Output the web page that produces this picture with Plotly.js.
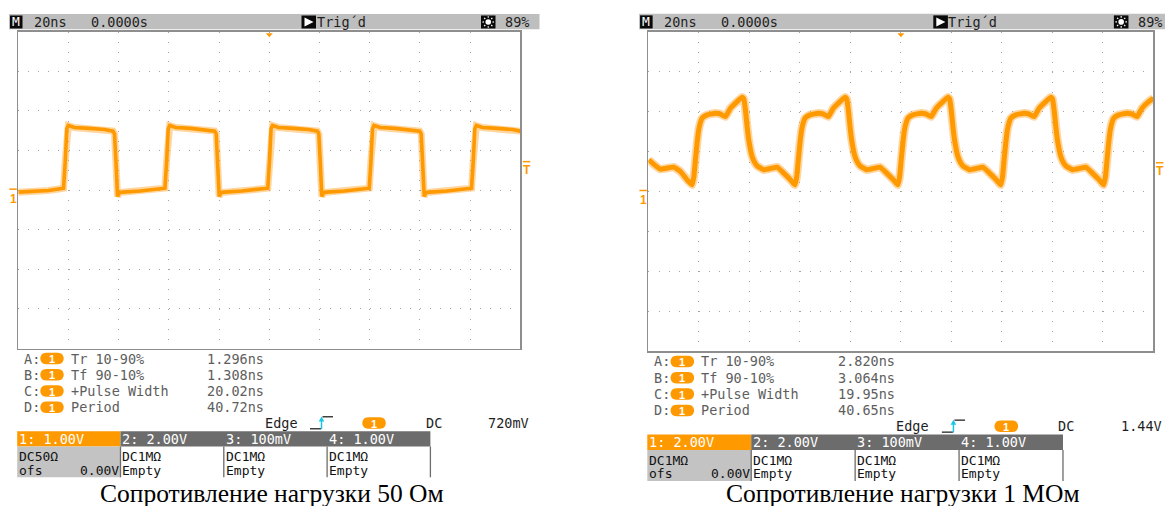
<!DOCTYPE html>
<html><head><meta charset="utf-8">
<script src="https://cdn.plot.ly/plotly-3.0.1.min.js"></script>
<style>html,body{margin:0;padding:0;background:#fff;overflow:hidden}#chart{width:1165px;height:506px}</style>
</head><body><div id="chart"></div>
<script>
// ---------- data ----------
const timeLeftNs = [
-100, -94, -88, -84,
-81.97, -81.27, -80.67, -80.07, -77.67, -71.67, -65.67,
-62.27, -61.67, -61.07, -60.47, -59.67, -58.47, -51.47, -45.47,
-41.57, -40.87, -40.27, -39.67, -37.27, -31.27, -25.27,
-21.76, -21.16, -20.56, -19.96, -19.16, -17.96, -10.96, -4.96,
-0.6, 0.1, 0.7, 1.3, 3.7, 9.7, 15.7,
19.12, 19.72, 20.32, 20.92, 21.72, 22.92, 29.92, 35.92,
39.82, 40.52, 41.12, 41.72, 44.12, 50.12, 56.12,
59.92, 60.52, 61.12, 61.72, 62.52, 63.72, 70.72, 76.72,
80.58, 81.28, 81.88, 82.48, 84.88, 90.88, 96.88, 100];
const voltLeft = [
-0.05, -0.04, -0.01, 0.03,
0.05, 0.76, 1.55, 1.63, 1.58, 1.56, 1.53,
1.49, 1.42, 0.7, -0.16, -0.06, -0.05, -0.02, 0.02,
0.05, 0.76, 1.55, 1.63, 1.58, 1.56, 1.53,
1.49, 1.42, 0.7, -0.16, -0.06, -0.05, -0.02, 0.02,
0.05, 0.76, 1.55, 1.63, 1.58, 1.56, 1.53,
1.49, 1.42, 0.7, -0.16, -0.06, -0.05, -0.02, 0.02,
0.05, 0.76, 1.55, 1.63, 1.58, 1.56, 1.53,
1.49, 1.42, 0.7, -0.16, -0.06, -0.05, -0.02, 0.02,
0.05, 0.76, 1.55, 1.63, 1.58, 1.56, 1.53, 1.49];

const timeRightNs = [
-99.9, -95.25, -89.98, -87.33, -84.67,
-82.69, -82.0, -81.38, -80.75, -80.08, -79.4, -78.73, -76.75, -73.46, -71.60, -69.50, -67.52, -64.87, -62.89, -62.21, -61.58, -60.91, -60.27, -58.93, -57.9, -56.95, -54.33, -51.01, -49.03, -46.41, -43.76,
-41.94, -41.25, -40.63, -40.0, -39.33, -38.65, -37.98, -36.00, -32.71, -30.85, -28.75, -26.77, -24.12, -22.14, -21.46, -20.83, -20.16, -19.52, -18.18, -17.15, -16.20, -13.58, -10.26, -8.28, -5.66, -3.01,
-1.19, -0.5, 0.12, 0.75, 1.42, 2.1, 2.77, 4.75, 8.04, 9.90, 12.00, 13.98, 16.63, 18.61, 19.29, 19.92, 20.59, 21.23, 22.57, 23.6, 24.55, 27.17, 30.49, 32.47, 35.09, 37.74,
39.56, 40.25, 40.87, 41.5, 42.17, 42.85, 43.52, 45.50, 48.79, 50.65, 52.75, 54.73, 57.38, 59.36, 60.04, 60.67, 61.34, 61.98, 63.32, 64.35, 65.30, 67.92, 71.24, 73.22, 75.84, 78.49,
80.32, 81.0, 81.63, 82.25, 82.93, 83.6, 84.28, 86.26, 89.55, 91.41, 93.51, 95.49, 98.14, 100.0];
const voltRight = [
1.585, 1.12, 1.22, 1.0, 0.585,
0.335, 0.75, 1.585, 2.4, 3.085, 3.45, 3.67, 3.835, 3.92, 3.885, 3.75, 4.17, 4.5, 4.72, 4.635, 4.085, 3.25, 2.585, 1.75, 1.45, 1.285, 1.085, 1.17, 1.22, 0.92, 0.585,
0.335, 0.75, 1.585, 2.4, 3.085, 3.45, 3.67, 3.835, 3.92, 3.885, 3.75, 4.17, 4.5, 4.72, 4.635, 4.085, 3.25, 2.585, 1.75, 1.45, 1.285, 1.085, 1.17, 1.22, 0.92, 0.585,
0.335, 0.75, 1.585, 2.4, 3.085, 3.45, 3.67, 3.835, 3.92, 3.885, 3.75, 4.17, 4.5, 4.72, 4.635, 4.085, 3.25, 2.585, 1.75, 1.45, 1.285, 1.085, 1.17, 1.22, 0.92, 0.585,
0.335, 0.75, 1.585, 2.4, 3.085, 3.45, 3.67, 3.835, 3.92, 3.885, 3.75, 4.17, 4.5, 4.72, 4.635, 4.085, 3.25, 2.585, 1.75, 1.45, 1.285, 1.085, 1.17, 1.22, 0.92, 0.585,
0.335, 0.75, 1.585, 2.4, 3.085, 3.45, 3.67, 3.835, 3.92, 3.885, 3.75, 4.17, 4.5, 4.66];

const timebaseText = ["20ns", "20ns"];
const delayText = ["0.0000s", "0.0000s"];
const trigStateText = ["Trig´d", "Trig´d"];
const batteryText = ["89%", "89%"];
const measKeys = ["A:", "B:", "C:", "D:"];
const measLabels = ["Tr 10-90%", "Tf 90-10%", "+Pulse Width", "Period"];
const measLeft = ["1.296ns", "1.308ns", "20.02ns", "40.72ns"];
const measRight = ["2.820ns", "3.064ns", "19.95ns", "40.65ns"];
const trigTypeText = "Edge";
const trigCouplingText = "DC";
const trigLevelText = ["720mV", "1.44V"];
const trigLevelV = [0.72, 1.44];
const chanHeadLeft = ["1: 1.00V", "2: 2.00V", "3: 100mV", "4: 1.00V"];
const chanHeadRight = ["1: 2.00V", "2: 2.00V", "3: 100mV", "4: 1.00V"];
const chanCoupLeft = ["DC50Ω", "DC1MΩ", "DC1MΩ", "DC1MΩ"];
const chanCoupRight = ["DC1MΩ", "DC1MΩ", "DC1MΩ", "DC1MΩ"];
const chanLine3 = ["ofs", "Empty", "Empty", "Empty"];
const offsetText = "0.00V";
const captions = ["Сопротивление нагрузки 50 Ом", "Сопротивление нагрузки 1 МОм"];
const voltsPerDiv = [1, 2];

// ---------- drawing helpers ----------
const W = 1165, H = 506;
const X = p => p / W, Y = p => 1 - p / H;
const MONO = "DejaVu Sans Mono";
const ORANGE = "#FF9900";
const shapes = [], ann = [];

function rect(x0, y0, x1, y1, fill, lc, lw) {
  shapes.push({type: 'rect', xref: 'paper', yref: 'paper', x0: X(x0), x1: X(x1), y0: Y(y1), y1: Y(y0),
    fillcolor: fill, line: {color: lc || fill, width: lw || 0}, layer: 'above'});
}
function seg(x0, y0, x1, y1, color, w) {
  shapes.push({type: 'line', xref: 'paper', yref: 'paper', x0: X(x0), x1: X(x1), y0: Y(y0), y1: Y(y1),
    line: {color: color, width: w || 1}, layer: 'above'});
}
function pathShape(d, fill) {
  shapes.push({type: 'path', xref: 'paper', yref: 'paper', path: d, fillcolor: fill, line: {width: 0}, layer: 'above'});
}
const P = (x, y) => X(x) + ',' + Y(y);
function pill(x1, x2, yc, h) {
  const r = h / 2, k = 1.333 * r;
  const d = 'M' + P(x1 + r, yc - r) + ' L' + P(x2 - r, yc - r) +
    ' C' + P(x2 - r + k, yc - r) + ' ' + P(x2 - r + k, yc + r) + ' ' + P(x2 - r, yc + r) +
    ' L' + P(x1 + r, yc + r) +
    ' C' + P(x1 + r - k, yc + r) + ' ' + P(x1 + r - k, yc - r) + ' ' + P(x1 + r, yc - r) + ' Z';
  pathShape(d, ORANGE);
  text((x1 + x2) / 2, yc + 0.5, '1', {anchor: 'center', color: '#fff', size: 11, family: 'Liberation Sans', weight: 'bold'});
}
function text(x, y, s, o) {
  o = o || {};
  ann.push({xref: 'paper', yref: 'paper', x: X(x), y: Y(y), text: s, showarrow: false,
    xanchor: o.anchor || 'left', yanchor: 'middle', borderpad: 0, borderwidth: 0,
    font: {family: o.family || MONO, size: o.size || 13.5, color: o.color || '#1e1e1e', weight: o.weight || 'normal'}});
}

const panels = [
  {ox: 0, sx: 1, sy: 1, meas: measLeft, head: chanHeadLeft, coup: chanCoupLeft},
  {ox: 630, sx: 1.006, sy: 1.0085, meas: measRight, head: chanHeadRight, coup: chanCoupRight}
];
const frames = [];

panels.forEach((p, k) => {
  const PX = x => p.ox + x * p.sx, PY = y => 31.7 + (y - 31.7) * p.sy;
  const fl = PX(18.3), fr = PX(520.3), ft = PY(31.7), fb = PY(348.6);
  frames.push({l: fl, r: fr, t: ft, b: fb});

  // status bar
  rect(PX(9), PY(14), Math.min(PX(539.5), W), PY(29.3), '#bebebe');
  rect(PX(10), PY(15.5), PX(22.5), PY(28.5), '#0a0a0a');
  text(PX(16.3), PY(22), 'M', {anchor: 'center', color: '#fff', size: 13});
  text(PX(33.5), PY(22), timebaseText[k]);
  text(PX(90.5), PY(22), delayText[k]);
  rect(PX(301.5), PY(15.5), PX(316), PY(28.5), '#0a0a0a');
  pathShape('M' + P(PX(304.5), PY(17.5)) + ' L' + P(PX(313.5), PY(22)) + ' L' + P(PX(304.5), PY(26.5)) + ' Z', '#fff');
  text(PX(316.5), PY(22), trigStateText[k]);
  // sun icon
  rect(PX(481), PY(15.5), PX(495.5), PY(28.5), '#0a0a0a');
  const cx = PX(488.25), cy = PY(22);
  shapes.push({type: 'circle', xref: 'paper', yref: 'paper', x0: X(cx - 2.8), x1: X(cx + 2.8), y0: Y(cy + 2.8), y1: Y(cy - 2.8),
    fillcolor: '#fff', line: {width: 0}, layer: 'above'});
  for (let a = 0; a < 8; a++) {
    const an = a * Math.PI / 4;
    seg(cx + 4.2 * Math.cos(an), cy + 4.2 * Math.sin(an), cx + 5.8 * Math.cos(an), cy + 5.8 * Math.sin(an), '#fff', 1.2);
  }
  text(PX(504.5), PY(22), batteryText[k]);

  // markers on frame
  const midX = (fl + fr) / 2;
  pathShape('M' + P(midX - 3.5, ft + 1.5) + ' L' + P(midX + 3.5, ft + 1.5) + ' L' + P(midX, ft + 5.5) + ' Z', ORANGE);
  const gy = (ft + fb) / 2;
  seg(fl - 9, gy - 1, fl - 1.5, gy - 1, ORANGE, 1.5);
  text(fl - 5, gy + 9, '1', {anchor: 'center', color: ORANGE, size: 12, family: 'Liberation Sans', weight: 'bold'});
  const ty = gy - trigLevelV[k] / voltsPerDiv[k] * (fb - ft) / 8;
  seg(fr + 2.5, ty, fr + 10, ty, ORANGE, 1.5);
  text(fr + 6.3, ty + 8, 'T', {anchor: 'center', color: ORANGE, size: 12, family: 'Liberation Sans', weight: 'bold'});

  // measurements
  const rows = [358.6, 374.8, 391, 407.2];
  rows.forEach((ry, i) => {
    text(PX(24.3), PY(ry), measKeys[i], {color: '#5e5e5e'});
    pill(PX(40.3), PX(63.7), PY(ry), 11.5);
    text(PX(71), PY(ry), measLabels[i], {color: '#5e5e5e'});
    text(PX(206.5), PY(ry), p.meas[i], {color: '#5e5e5e'});
  });

  // trigger info row
  const ey = PY(423);
  text(PX(264.5), ey, trigTypeText);
  seg(PX(310), ey + 5.8, PX(321), ey + 5.8, '#111', 1.2);
  seg(PX(321.5), ey + 6.2, PX(321.5), ey - 3, '#19c6e6', 1.5);
  pathShape('M' + P(PX(318.7), ey - 1.5) + ' L' + P(PX(321.5), ey - 6.5) + ' L' + P(PX(324.3), ey - 1.5) + ' Z', '#19c6e6');
  seg(PX(322.5), ey - 6.2, PX(333), ey - 6.2, '#111', 1.2);
  pill(PX(362.3), PX(385.8), ey, 11.5);
  text(PX(425.5), ey, trigCouplingText);
  text(PX(529), ey, trigLevelText[k], {anchor: 'right'});

  // channel boxes
  const bx = [17.2, 120.5, 223.8, 327.1, 430.4].map(PX);
  const hT = PY(431.2), hB = PY(446.5), lB = PY(477.3);
  rect(bx[0], hT, bx[1], hB, ORANGE);
  rect(bx[1], hT, bx[4], hB, '#6c6c6c');
  rect(bx[0], hB, bx[1], lB, '#c3c3c3');
  for (let i = 1; i < 5; i++) seg(bx[i], hB, bx[i], lB, '#6c6c6c', 1.3);
  for (let i = 0; i < 4; i++) {
    text(bx[i] + 1.8, (hT + hB) / 2, p.head[i], {color: '#fff'});
    text(bx[i] + 1.8, PY(456.6), p.coup[i], {color: '#111', size: 13});
    text(bx[i] + 1.8, PY(470.2), chanLine3[i], {color: '#111', size: 13});
  }
  text(bx[1] - 1.5, PY(470.2), offsetText, {anchor: 'right', color: '#111', size: 13});

  // caption
  text(PX(271.5), 493.5, captions[k], {anchor: 'center', family: 'Liberation Serif', size: 25.5, color: '#000'});
});

function axis(f, horiz, k) {
  const common = {showticklabels: false, ticks: '', zeroline: false, showgrid: true, gridcolor: '#a3a3a3', gridwidth: 1,
    showline: true, mirror: true, linecolor: '#8e8e8e', linewidth: 1.5, fixedrange: true};
  if (horiz) {
    const sub = (f.b - f.t) / 32;
    return Object.assign({}, common, {domain: [X(f.l), X(f.r)], range: [-100, 100], dtick: 20, tick0: 0,
      griddash: '1px,' + (sub - 1).toFixed(3) + 'px', anchor: k ? 'y2' : 'y'});
  }
  const sub = (f.r - f.l) / 50;
  const v = voltsPerDiv[k];
  return Object.assign({}, common, {domain: [Y(f.b), Y(f.t)], range: [-4 * v, 4 * v], dtick: v, tick0: 0,
    griddash: '1px,' + (sub - 1).toFixed(3) + 'px', anchor: k ? 'x2' : 'x'});
}

const traces = [
  {x: timeLeftNs, y: voltLeft, xaxis: 'x', yaxis: 'y', mode: 'lines', line: {color: 'rgba(255,165,45,0.45)', width: 7}, hoverinfo: 'skip'},
  {x: timeLeftNs, y: voltLeft, xaxis: 'x', yaxis: 'y', mode: 'lines', line: {color: ORANGE, width: 3.6}, hoverinfo: 'skip'},
  {x: timeRightNs, y: voltRight, xaxis: 'x2', yaxis: 'y2', mode: 'lines', line: {color: 'rgba(255,165,45,0.45)', width: 8.5, shape: 'spline', smoothing: 0.4}, hoverinfo: 'skip'},
  {x: timeRightNs, y: voltRight, xaxis: 'x2', yaxis: 'y2', mode: 'lines', line: {color: ORANGE, width: 5, shape: 'spline', smoothing: 0.4}, hoverinfo: 'skip'}
];

const layout = {
  width: W, height: H, margin: {l: 0, r: 0, t: 0, b: 0}, paper_bgcolor: '#fff', plot_bgcolor: '#fff',
  showlegend: false, hovermode: false,
  xaxis: axis(frames[0], true, 0), yaxis: axis(frames[0], false, 0),
  xaxis2: axis(frames[1], true, 1), yaxis2: axis(frames[1], false, 1),
  shapes: shapes, annotations: ann
};
Plotly.newPlot('chart', traces, layout, {staticPlot: true, displayModeBar: false});
</script></body></html>
